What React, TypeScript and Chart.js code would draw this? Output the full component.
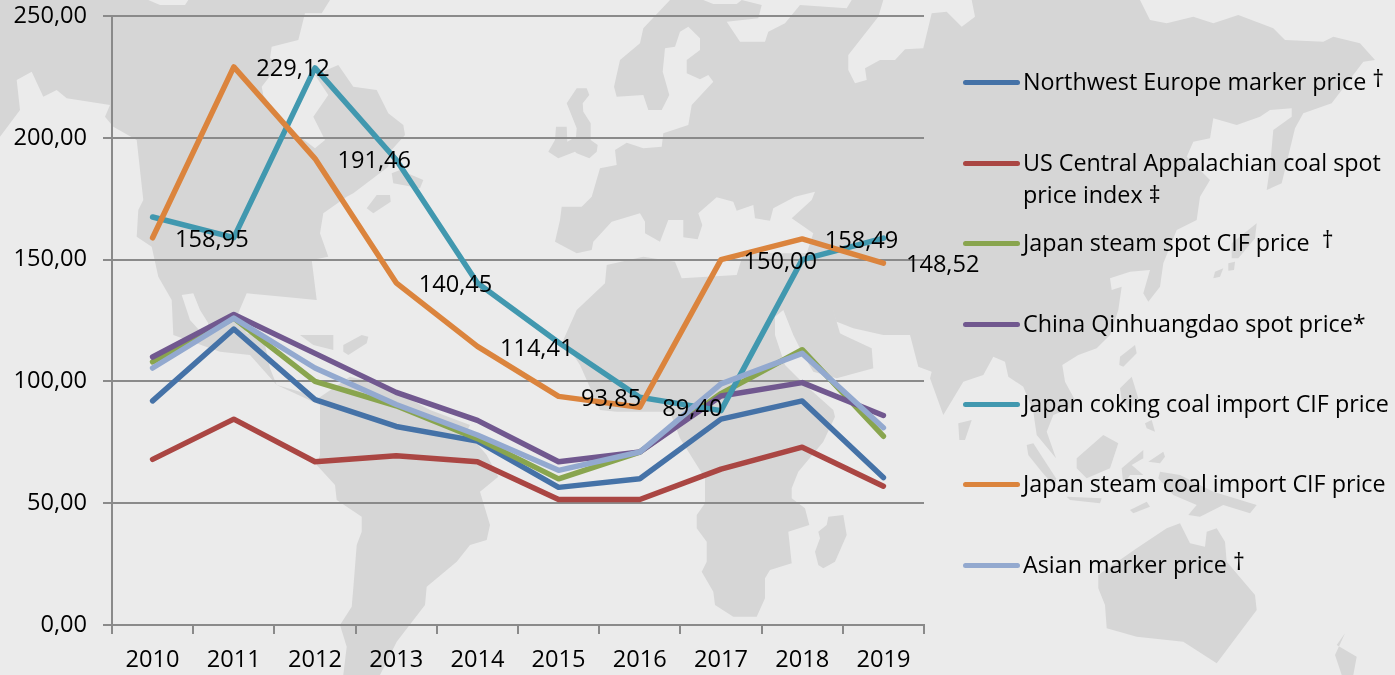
import React, { useEffect, useRef } from "react";
import { Chart, registerables } from "chart.js";

Chart.register(...registerables);

const years = ["2010", "2011", "2012", "2013", "2014", "2015", "2016", "2017", "2018", "2019"];
const northwestEurope = [92, 121.5, 92.5, 81.5, 75.5, 56.5, 60, 84.5, 92, 60.5];
const usAppalachian = [68, 84.5, 67, 69.5, 67, 51.5, 51.5, 64, 73, 57];
const japanSteamSpot = [108, 126, 100, 90, 76.5, 60, 71, 95, 113, 77.5];
const chinaQinhuangdao = [110, 127.5, 111.5, 95.5, 84, 67, 71, 94, 99.5, 86];
const japanCoking = [167.5, 159, 228.7, 191, 140.4, 116, 93.5, 88, 150, 158.8];
const japanSteamImport = [158.95, 229.12, 191.46, 140.45, 114.41, 93.85, 89.4, 150.0, 158.49, 148.52];
const asianMarker = [105.5, 126, 105.5, 90.5, 78, 63.5, 71, 99, 111.5, 81];

const seriesNames = [
  ["Northwest Europe marker price †"],
  ["US Central Appalachian coal spot", "price index ‡"],
  ["Japan steam spot CIF price  †"],
  ["China Qinhuangdao spot price*"],
  ["Japan coking coal import CIF price"],
  ["Japan steam coal import CIF price"],
  ["Asian marker price †"],
];
const seriesValues = [northwestEurope, usAppalachian, japanSteamSpot, chinaQinhuangdao, japanCoking, japanSteamImport, asianMarker];
const seriesColors = ["#4572a7", "#aa4643", "#89a54e", "#71588f", "#4198af", "#db843d", "#93a9cf"];
const legendY = [81, 162, 242, 323, 403, 483, 564];

const FONT = "'Open Sans'";
const FONT_SIZE = 23.6;
const LEGEND_SIZE = 23.3;

// Background world map (decoration, not data).
type P = [number, number];
const seg = (ox: number, oy: number, pts: number[][]): P[] => pts.map(([x, y]) => [ox + x / 3, oy + y / 3] as P);
const path = (pts: P[]) => "M" + pts.map(([x, y]) => `${x.toFixed(1)} ${y.toFixed(1)}`).join("L") + "Z";

const americasN: P[] = [
  [0, 0],
  ...seg(0, 0, [[445, 0], [480, 15], [555, 15], [565, 0], [990, 0], [965, 40], [915, 40], [895, 120], [815, 140], [810, 175], [840, 190], [785, 260], [790, 285], [860, 380], [945, 445], [975, 420], [940, 350], [985, 285], [945, 225], [1015, 195], [1060, 260], [1130, 270], [1165, 340], [1210, 375], [1215, 405], [1170, 455], [1165, 500], [1060, 580], [1040, 590], [970, 640], [960, 700], [985, 770], [935, 780], [950, 900], [740, 880], [710, 950], [740, 1000], [790, 1010]]),
  ...seg(0, 335, [[810, 100], [830, 150], [900, 170], [955, 190], [1050, 125], [1150, 150], [1290, 225], [1410, 270]]),
  ...seg(470, 335, [[-10, 290], [50, 360], [85, 425], [30, 470], [60, 570], [50, 615], [0, 630]]),
  ...seg(0, 335, [[1370, 680], [1280, 755], [1275, 810], [1190, 920], [1140, 1020], [1030, 1020], [1040, 935], [1020, 870], [1055, 815], [1060, 760], [1070, 630], [1085, 590], [1085, 545], [1010, 495], [1005, 450], [950, 390], [960, 360], [960, 210], [830, 150], [750, 60], [660, 50], [520, 0]]),
  ...seg(0, 0, [[515, 900], [475, 830], [455, 740], [410, 710], [415, 630], [430, 600], [410, 420], [340, 380], [315, 350], [330, 315], [200, 295], [170, 270], [130, 290], [95, 215], [50, 240], [60, 330], [0, 410]]),
];

const eurasiaAfrica: P[] = [
  ...seg(470, 0, [[270, 660], [275, 620], [335, 620], [365, 590], [390, 505], [440, 495], [435, 450], [470, 428], [520, 445], [575, 440], [580, 400], [655, 375], [665, 315], [730, 245], [715, 225], [690, 238], [650, 220], [650, 180], [690, 150], [690, 115], [655, 80], [630, 95], [615, 140], [585, 145], [578, 215], [598, 285], [575, 330], [535, 330], [520, 285], [440, 290], [432, 260], [450, 180], [510, 130], [520, 85], [600, 0], [700, 0], [730, 12], [800, 12], [815, 0], [875, 15], [865, 55], [770, 65], [810, 125], [885, 125], [895, 95], [945, 70], [990, 15], [1130, 25], [1145, 0], [1240, 0], [1225, 50], [1135, 165], [1135, 210], [1155, 250], [1190, 240], [1185, 205], [1230, 180], [1275, 180], [1305, 148], [1360, 145], [1385, 40]]),
  ...seg(930, 0, [[50, 35], [95, 80], [135, 50], [125, 0], [630, 0], [660, 60], [710, 70], [790, 50], [850, 70], [925, 45], [1030, 85], [1065, 120], [1180, 125], [1210, 110], [1290, 130], [1335, 180], [1300, 185], [1205, 310], [1120, 340], [1095, 385], [1055, 550], [1010, 570], [1020, 500], [1030, 390], [1085, 350], [1085, 325], [1020, 330], [990, 350], [920, 375], [850, 355], [840, 415], [790, 425], [770, 470], [840, 540], [810, 590], [800, 660], [740, 690], [700, 790], [690, 860], [655, 905], [640, 880], [660, 810], [600, 815], [540, 835], [545, 870], [575, 860], [565, 930], [540, 1005]]),
  ...seg(930, 335, [[500, 40], [445, 60], [397, 90], [405, 140], [435, 195], [430, 215], [370, 240], [350, 290], [378, 370], [320, 300], [310, 230], [280, 155], [235, 125], [225, 80], [190, 65], [160, 120], [100, 140], [40, 240], [0, 130]]),
  ...seg(470, 335, [[1385, 110], [1345, 95], [1320, 0], [1240, 0]]),
  ...seg(470, 0, [[1150, 985], [1100, 965], [1085, 915], [1110, 1000]]),
  ...seg(470, 335, [[1120, 0], [1205, 40], [1210, 100], [1100, 130], [1030, 110], [1000, 60], [970, 0]]),
  ...seg(470, 0, [[940, 930], [915, 950], [915, 1005]]),
  ...seg(470, 335, [[945, 90], [1000, 145], [1090, 225], [1095, 245], [1060, 320], [985, 410], [965, 460], [965, 490], [1005, 520], [1018, 570], [955, 590], [965, 685], [900, 705], [885, 730], [885, 790], [860, 845], [790, 845], [735, 810], [730, 770], [695, 710], [710, 680], [710, 620], [680, 580], [680, 540], [705, 505], [705, 430], [630, 310], [600, 230], [440, 230], [390, 225], [330, 90]]),
  ...seg(470, 0, [[280, 1020], [320, 930], [405, 850], [410, 795], [520, 770], [615, 785], [635, 835], [800, 825], [820, 760], [1010, 760], [1030, 700], [965, 655], [1025, 600], [1035, 575], [975, 590], [910, 625], [900, 662], [855, 655], [850, 615], [800, 632], [790, 605], [740, 592], [685, 640], [697, 675], [683, 718], [640, 712], [640, 660], [595, 660], [570, 725], [525, 700], [525, 665], [510, 640], [425, 665], [370, 725], [365, 750], [320, 760], [255, 725]]),
];

const mapPaths: string[] = [
  americasN,
  eurasiaAfrica,
  seg(0, 0, [[1175, 520], [1200, 510], [1270, 540], [1260, 565], [1180, 550]]),
  seg(0, 0, [[1100, 625], [1130, 585], [1170, 585], [1172, 605], [1120, 640]]),
  seg(0, 335, [[900, 0], [1000, 0], [1000, 45], [940, 30]]),
  seg(0, 335, [[1030, 30], [1085, 0], [1105, 5], [1100, 25], [1045, 60], [1030, 50]]),
  seg(470, 0, [[290, 310], [320, 265], [350, 265], [358, 285], [338, 310], [340, 335], [362, 370], [362, 420], [383, 435], [380, 455], [358, 475], [320, 460], [315, 455], [265, 475], [235, 455], [255, 420], [258, 380], [290, 380], [292, 425], [318, 410], [320, 385]]),
  seg(470, 335, [[1075, 545], [1120, 540], [1130, 600], [1095, 680], [1060, 700], [1045, 690], [1035, 650], [1050, 610], [1045, 590], [1070, 570]]),
  seg(930, 0, [[905, 730], [980, 670], [975, 715], [925, 775], [905, 775]]),
  seg(930, 0, [[895, 790], [915, 785], [912, 810], [895, 812]]),
  seg(930, 0, [[855, 815], [880, 805], [870, 830], [850, 835]]),
  seg(930, 335, [[570, 65], [615, 30], [620, 55], [580, 95], [568, 90]]),
  seg(930, 335, [[570, 160], [605, 125], [625, 190], [600, 225], [575, 195]]),
  seg(930, 335, [[645, 265], [665, 255], [675, 290], [650, 280]]),
  seg(930, 335, [[85, 265], [125, 255], [105, 315], [88, 315]]),
  seg(930, 335, [[290, 330], [310, 325], [378, 430], [375, 455], [335, 410], [295, 360]]),
  seg(930, 335, [[440, 370], [520, 300], [565, 325], [540, 400], [470, 430], [440, 400]]),
  seg(930, 335, [[575, 400], [640, 345], [640, 370], [605, 390], [640, 420], [600, 420], [580, 450]]),
  seg(930, 335, [[655, 380], [700, 350], [705, 365], [690, 385]]),
  seg(930, 335, [[410, 485], [515, 490], [510, 505], [420, 495]]),
  seg(930, 335, [[600, 525], [650, 500], [660, 515], [610, 535]]),
  seg(930, 335, [[690, 410], [750, 420], [850, 470], [980, 510], [960, 535], [880, 510], [810, 545], [775, 540], [800, 510], [730, 480], [685, 430]]),
  seg(930, 335, [[505, 720], [620, 640], [710, 580], [750, 565], [780, 625], [825, 635], [830, 590], [860, 580], [885, 620], [890, 680], [975, 780], [980, 825], [860, 985], [760, 920], [620, 905], [530, 880], [525, 810], [505, 760]]),
  seg(930, 335, [[1245, 895], [1220, 930], [1280, 965], [1270, 1020], [1235, 1020], [1215, 960]]),
].map(path);

const waterPaths: string[] = [
  seg(0, 0, [[545, 885], [580, 880], [600, 930], [625, 970], [615, 1010], [570, 960]]),
].map(path);

const labelPlugin = {
  id: "importLabels",
  afterDatasetsDraw(chart: Chart) {
    const idx = 5;
    const meta = chart.getDatasetMeta(idx);
    const ctx = chart.ctx;
    ctx.save();
    ctx.font = `${FONT_SIZE}px ${FONT}`;
    ctx.fillStyle = "#000";
    ctx.textAlign = "left";
    ctx.textBaseline = "middle";
    meta.data.forEach((pt: any, i: number) => {
      const text = japanSteamImport[i].toFixed(2).replace(".", ",");
      ctx.fillText(text, pt.x + 22.5, pt.y + 2.5);
    });
    ctx.restore();
  },
};

const renderLine = (line: string) =>
  line.split(/(†)/).map((part, k) =>
    part === "†" ? (
      <span key={k} style={{ position: "relative", top: -3 }}>{part}</span>
    ) : (
      <span key={k}>{part}</span>
    ),
  );

export default function App() {
  const ref = useRef<HTMLCanvasElement>(null);
  useEffect(() => {
    const chart = new Chart(ref.current!, {
      type: "line",
      data: {
        labels: years,
        datasets: seriesValues.map((values, i) => ({
          label: seriesNames[i].join(" "),
          data: values,
          borderColor: seriesColors[i],
          backgroundColor: seriesColors[i],
          borderWidth: 5.5,
          borderCapStyle: "round",
          borderJoinStyle: "round",
          pointRadius: 0,
          tension: 0,
          order: seriesValues.length - i,
          clip: false,
        })),
      } as any,
      options: {
        animation: false,
        responsive: false,
        layout: { padding: { top: 16, right: 471, left: 0, bottom: 0 } },
        plugins: { legend: { display: false }, tooltip: { enabled: false }, title: { display: false } },
        scales: {
          x: {
            type: "category",
            offset: true,
            afterFit: (s: any) => { s.height = 50; },
            border: { color: "#8a8a8a", width: 2 },
            grid: { offset: true, drawOnChartArea: false, color: "#8a8a8a", lineWidth: 2, tickLength: 9 },
            ticks: { color: "#000", font: { family: FONT, size: FONT_SIZE }, padding: 12, maxRotation: 0 },
          },
          y: {
            min: 0,
            max: 250,
            afterFit: (s: any) => { s.width = 112; s.paddingTop = 0; s.paddingBottom = 0; },
            border: { color: "#8a8a8a", width: 2 },
            grid: { color: "#8a8a8a", lineWidth: 2, tickLength: 9 },
            ticks: {
              stepSize: 50,
              color: "#000",
              font: { family: FONT, size: FONT_SIZE },
              padding: 16,
              callback: (v: any) => Number(v).toFixed(2).replace(".", ","),
            },
          },
        },
      } as any,
      plugins: [labelPlugin],
    });
    return () => chart.destroy();
  }, []);

  return (
    <div style={{ position: "fixed", left: 0, top: 0, width: 1395, height: 675, background: "#ebebeb", overflow: "hidden" }}>
      <svg width={1395} height={675} style={{ position: "absolute", left: 0, top: 0 }}>
        {mapPaths.map((d, i) => <path key={i} d={d} fill="#d6d6d6" />)}
        {waterPaths.map((d, i) => <path key={i} d={d} fill="#ebebeb" />)}
      </svg>
      <canvas ref={ref} width={1395} height={675} style={{ position: "absolute", left: 0, top: 0, width: 1395, height: 675 }} />
      {seriesNames.map((lines, i) => (
        <div key={i}>
          <div style={{ position: "absolute", left: 963, top: legendY[i] - 1.5, width: 57, height: 5, borderRadius: 3, background: seriesColors[i] }} />
          {lines.map((line, j) => (
            <div key={j} style={{ position: "absolute", left: 1023, top: legendY[i] + j * 32 - 16, height: 32, font: `${LEGEND_SIZE}px/32px ${FONT}`, color: "#000", whiteSpace: "pre" }}>{renderLine(line)}</div>
          ))}
        </div>
      ))}
    </div>
  );
}
